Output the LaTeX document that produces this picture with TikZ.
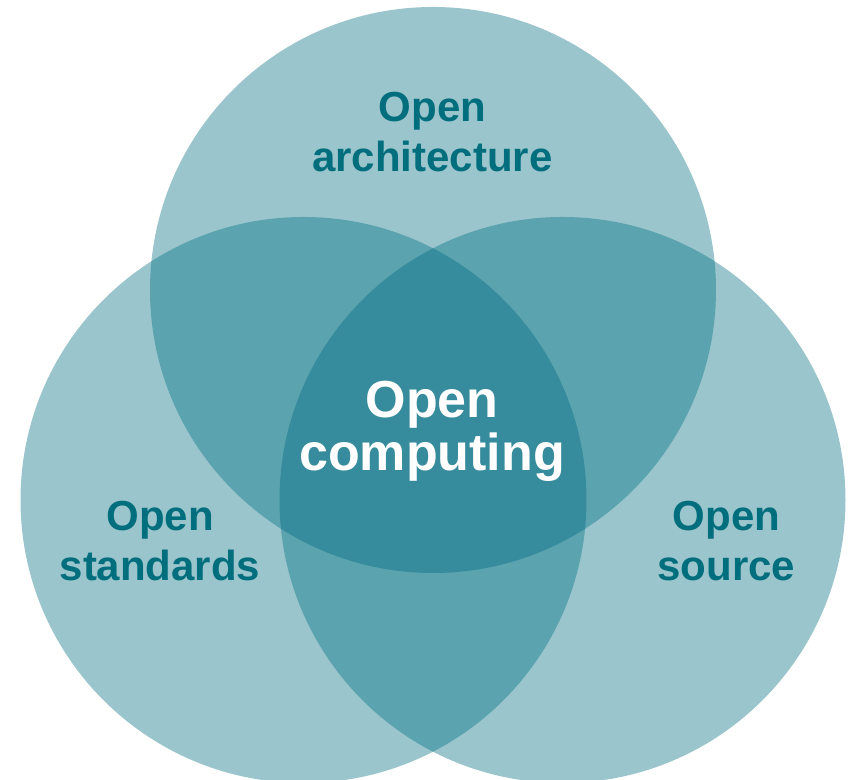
\documentclass[tikz,border=0pt]{standalone}
\usepackage{fontspec}
\setmainfont{Liberation Sans}
\definecolor{set fill}{HTML}{9BC5CC}
\definecolor{pair fill}{HTML}{5BA3AF}
\definecolor{core fill}{HTML}{368C9C}
\definecolor{set text}{HTML}{006E7D}
\tikzset{
	venn diagram/.style={
		x=0.02cm,y=0.02cm, % one unit is one pixel of the layout
		set circle/.style={radius=283}
	},
	set label/.style={
		font=\fontsize{23.9}{29}\selectfont\bfseries,
		text=set text,
		align=center,
		anchor=base, % baseline of the last line
		inner sep=0pt
	},
	core label/.style={
		set label,
		font=\fontsize{29.6}{30.2}\selectfont\bfseries,
		text=white
	}
}

\begin{document}
\begin{tikzpicture}[venn diagram]
	\useasboundingbox (0,0) rectangle (850,780);
	\clip (0,0) rectangle (850,780);
	\coordinate (architecture) at (433,490);
	\coordinate (standards) at (303.5,280);
	\coordinate (source) at (562.5,280);
	% single sets
	\foreach \s in {architecture,standards,source}
		\fill[set fill] (\s) circle[set circle];
	% overlaps of two sets
	\foreach \a/\b in {architecture/standards,architecture/source,standards/source}{
		\begin{scope}
			\clip (\a) circle[set circle];
			\fill[pair fill] (\b) circle[set circle];
		\end{scope}
	}
	% overlap of all three
	\begin{scope}
		\clip (architecture) circle[set circle];
		\clip (standards) circle[set circle];
		\fill[core fill] (source) circle[set circle];
	\end{scope}
	\node[set label] (architecture label) at (432.5,608) {Open\\architecture};
	\node[set label] (standards label) at (160,199) {Open\\standards};
	\node[set label] (source label) at (726.5,199) {Open\\source};
	\node[core label] (core label) at (432,309) {Open\\computing};
\end{tikzpicture}
\end{document}
